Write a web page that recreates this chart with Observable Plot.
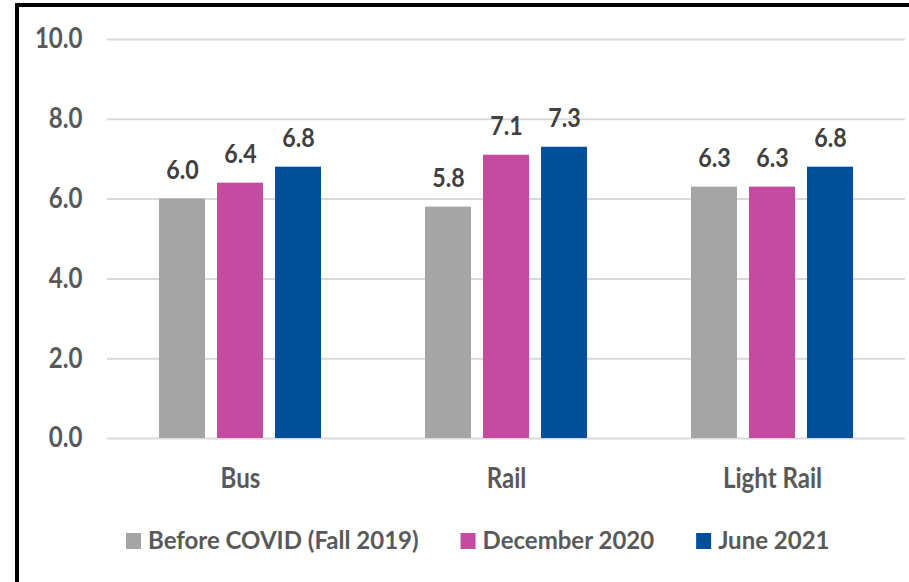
<!DOCTYPE html>
<html>
<head>
<meta charset="utf-8">
<script src="https://cdn.jsdelivr.net/npm/d3@7"></script>
<script src="https://cdn.jsdelivr.net/npm/@observablehq/plot@0.6"></script>
<style>
  html, body { margin: 0; padding: 0; background: #fff; overflow: hidden; width: 909px; height: 582px; }
  #wrap { position: relative; width: 909px; height: 582px; font-family: Lato, "Open Sans", sans-serif; }
  #chart svg text { font-weight: 700; }
  #border { position: absolute; left: 15px; top: 3px; width: 2000px; height: 2000px;
            border-left: 4px solid #000; border-top: 4px solid #000; pointer-events: none; }
  #legend { position: absolute; left: 0; top: 500px; }
</style>
</head>
<body>
<div id="wrap">
  <div id="chart"></div>
  <svg id="legend" width="909" height="82"></svg>
  <div id="border"></div>
</div>
<script>
// ---- data ----
const categories = ["Bus", "Rail", "Light Rail"];
const series = ["Before COVID (Fall 2019)", "December 2020", "June 2021"];
const beforeCovid = [6.0, 5.8, 6.3];
const december2020 = [6.4, 7.1, 6.3];
const june2021 = [6.8, 7.3, 6.8];
const seriesColors = ["#a5a5a5", "#c44b9f", "#004f9a"];
const yTicks = [0, 2, 4, 6, 8, 10];

const seriesValues = [beforeCovid, december2020, june2021];
const data = categories.flatMap((c, i) =>
  series.map((s, j) => ({category: c, series: s, value: seriesValues[j][i]}))
);

const chart = Plot.plot({
  width: 909,
  height: 500,
  marginLeft: 106,
  marginRight: 3,
  marginTop: 39,
  marginBottom: 62,
  style: {fontFamily: "Lato, 'Open Sans', sans-serif", background: "transparent"},
  fx: {domain: categories, padding: 0, label: null},
  x: {domain: series, paddingInner: 0.2, paddingOuter: 0.87, axis: null},
  y: {domain: [0, 10]},
  color: {domain: series, range: seriesColors},
  marks: [
    Plot.gridY(yTicks, {stroke: "#d9d9d9", strokeWidth: 2, strokeOpacity: 1}),
    Plot.barY(data, {fx: "category", x: "series", y: "value", fill: "series"}),
    Plot.text(data, {
      fx: "category", x: "series", y: "value",
      text: d => d.value.toFixed(1),
      dy: -29, fontSize: 27, fontWeight: 700, fill: "#404040"
    }),
    Plot.axisY(yTicks, {
      tickSize: 0, tickPadding: 25, tickFormat: d => d.toFixed(1),
      fontSize: 28, color: "#595959", label: null
    }),
    Plot.axisFx({
      anchor: "bottom", tickSize: 0, tickPadding: 30,
      fontSize: 28, color: "#595959", label: null
    })
  ]
});
document.getElementById("chart").appendChild(chart);

// condense text horizontally (Calibri-like narrow look) without moving anchors
function condense(nodes, k) {
  nodes.forEach(t => {
    const w = t.getComputedTextLength();
    if (w > 0) {
      t.setAttribute("textLength", (w * k).toFixed(2));
      t.setAttribute("lengthAdjust", "spacingAndGlyphs");
    }
  });
}
condense(chart.querySelectorAll("text"), 0.86);

// ---- legend ----
const legend = d3.select("#legend");
let lx = 126;
series.forEach((s, i) => {
  const g = legend.append("g").attr("transform", `translate(${lx},0)`);
  g.append("rect").attr("x", 0).attr("y", 33).attr("width", 15).attr("height", 16).attr("fill", seriesColors[i]);
  const t = g.append("text")
    .attr("x", 22).attr("y", 49)
    .attr("font-family", "Lato, 'Open Sans', sans-serif")
    .attr("font-size", 24)
    .attr("font-weight", 700)
    .attr("fill", "#595959")
    .text(s);
  const w = t.node().getComputedTextLength();
  lx += 22 + w + 42;
});
</script>
</body>
</html>
